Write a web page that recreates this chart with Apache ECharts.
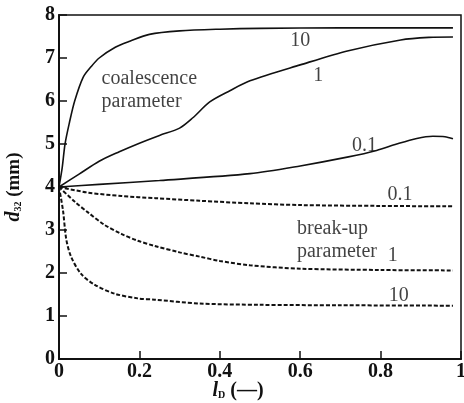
<!DOCTYPE html>
<html>
<head>
<meta charset="utf-8">
<script src="https://cdn.jsdelivr.net/npm/echarts@6/dist/echarts.min.js"></script>
<style>
  html, body { margin: 0; padding: 0; background: #fff; }
  #chart { width: 464px; height: 403px; }
</style>
</head>
<body>
<div id="chart"></div>
<script>
// curves, [lD, d32]
const coal10 = [[0,4],[0.008,4.45],[0.015,5],[0.026,5.5],[0.039,6],[0.06,6.55],[0.08,6.8],[0.10,7.0],[0.14,7.25],[0.176,7.39],[0.225,7.55],[0.3,7.63],[0.4,7.67],[0.5,7.69],[0.7,7.7],[0.98,7.7]];
const coal1 = [[0,4],[0.05,4.3],[0.10,4.6],[0.15,4.82],[0.20,5.02],[0.25,5.2],[0.30,5.37],[0.333,5.61],[0.375,5.98],[0.425,6.24],[0.475,6.47],[0.60,6.84],[0.72,7.17],[0.85,7.42],[0.92,7.48],[0.98,7.49]];
const coal01 = [[0,4],[0.1,4.06],[0.25,4.15],[0.475,4.31],[0.6,4.49],[0.72,4.70],[0.79,4.85],[0.84,5.0],[0.89,5.13],[0.93,5.18],[0.96,5.17],[0.98,5.12]];
const brk01 = [[0,4],[0.072,3.87],[0.155,3.79],[0.24,3.74],[0.35,3.68],[0.475,3.62],[0.6,3.58],[0.8,3.56],[0.98,3.55]];
const brk1 = [[0,4],[0.039,3.66],[0.072,3.41],[0.113,3.12],[0.155,2.91],[0.196,2.75],[0.238,2.63],[0.30,2.48],[0.35,2.38],[0.40,2.28],[0.475,2.18],[0.6,2.10],[0.8,2.07],[0.98,2.06]];
const brk10 = [[0,4],[0.01,3.45],[0.018,2.79],[0.03,2.38],[0.055,1.98],[0.088,1.73],[0.138,1.52],[0.196,1.41],[0.238,1.38],[0.35,1.29],[0.5,1.26],[0.7,1.25],[0.98,1.24]];

// curve annotations [x, y, text]
const notes = [
    [0.60, 7.41, '10'],
    [0.645, 6.58, '1'],
    [0.76, 4.96, '0.1'],
    [0.848, 3.83, '0.1'],
    [0.83, 2.39, '1'],
    [0.845, 1.475, '10']
];
const groupNotes = [
    [0.106, 6.24, 'coalescence\nparameter'],
    [0.592, 2.77, 'break-up\nparameter']
];

const serif = '"Liberation Serif", "DejaVu Serif", serif';

function curve(data, dashed) {
    return {
        type: 'line',
        data: data,
        smooth: 0.3,
        symbol: 'none',
        silent: true,
        lineStyle: {
            color: '#111',
            width: dashed ? 2 : 1.6,
            type: dashed ? [4, 2] : 'solid'
        }
    };
}

const chart = echarts.init(document.getElementById('chart'), null, {renderer: 'canvas'});

const option = {
    animation: false,
    backgroundColor: '#fff',
    grid: {
        left: 59, right: 3, top: 15, bottom: 44,
        containLabel: false,
        outerBoundsMode: 'none',
        show: true,
        borderColor: '#111',
        borderWidth: 1.5
    },
    xAxis: {
        type: 'value',
        min: 0, max: 1, interval: 0.2,
        axisLine: {lineStyle: {color: '#111', width: 2}},
        axisTick: {inside: true, length: 8, lineStyle: {color: '#111', width: 1.5}},
        splitLine: {show: false},
        axisLabel: {
            color: '#111', fontFamily: serif, fontWeight: 'bold', fontSize: 20, margin: 3,
            formatter: v => String(+v.toFixed(1))
        },
        name: '{i|l}{s|D}{b| (\u2014)}',
        nameLocation: 'middle',
        nameGap: 22,
        nameMoveOverlap: false,
        nameTextStyle: {
            padding: [0, 44, 0, 0],
            rich: {
                i: {fontFamily: serif, fontStyle: 'italic', fontWeight: 'bold', fontSize: 20, color: '#111'},
                s: {fontFamily: serif, fontWeight: 'bold', fontSize: 10, color: '#111', padding: [8, 0, 0, 0]},
                b: {fontFamily: serif, fontWeight: 'bold', fontSize: 20, color: '#111'}
            }
        }
    },
    yAxis: {
        type: 'value',
        min: 0, max: 8, interval: 1,
        axisLine: {lineStyle: {color: '#111', width: 2}},
        axisTick: {inside: true, length: 8, lineStyle: {color: '#111', width: 1.5}},
        splitLine: {show: false},
        axisLabel: {color: '#111', fontFamily: serif, fontWeight: 'bold', fontSize: 20, margin: 4},
        name: '{i|d}{s|32}{b| (mm)}',
        nameLocation: 'middle',
        nameGap: 35,
        nameRotate: 90,
        nameTextStyle: {
            rich: {
                i: {fontFamily: serif, fontStyle: 'italic', fontWeight: 'bold', fontSize: 20, color: '#111'},
                s: {fontFamily: serif, fontWeight: 'bold', fontSize: 10, color: '#111', padding: [8, 0, 0, 0]},
                b: {fontFamily: serif, fontWeight: 'bold', fontSize: 19, color: '#111'}
            }
        }
    },
    series: [
        curve(coal10, false),
        curve(coal1, false),
        curve(coal01, false),
        curve(brk01, true),
        curve(brk1, true),
        curve(brk10, true),
        {
            type: 'scatter',
            data: notes.map(n => ({value: [n[0], n[1]], name: n[2]})),
            symbolSize: 0,
            silent: true,
            label: {
                show: true, position: 'inside', formatter: p => p.name,
                color: '#111', fontFamily: serif, fontSize: 20
            }
        },
        {
            type: 'scatter',
            data: groupNotes.map(n => ({value: [n[0], n[1]], name: n[2]})),
            symbolSize: 0,
            silent: true,
            label: {
                show: true, position: 'right', distance: 0, formatter: p => p.name,
                color: '#111', fontFamily: serif, fontSize: 20, lineHeight: 23, align: 'left'
            }
        }
    ]
};

chart.setOption(option);
</script>
</body>
</html>
